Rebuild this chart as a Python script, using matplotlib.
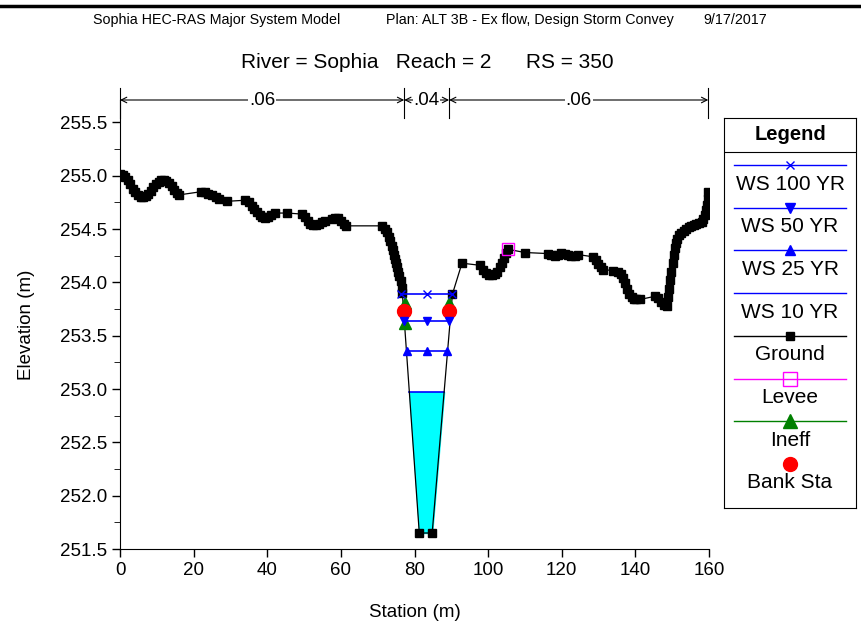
import matplotlib
matplotlib.use("Agg")
import matplotlib.pyplot as plt
from matplotlib.lines import Line2D
import numpy as np

plt.rcParams['font.family'] = ['Liberation Sans', 'DejaVu Sans']

# ground profile (station m, elevation m)
ground_pts = [
    (0.0, 255.02), (0.7, 255.01), (1.4, 254.99), (2.1, 254.96), (2.8, 254.92), (3.5, 254.88),
    (4.2, 254.85), (4.9, 254.82), (5.6, 254.80), (6.3, 254.80), (7.0, 254.81), (7.7, 254.83),
    (8.4, 254.86), (9.1, 254.89), (9.8, 254.92), (10.5, 254.94), (11.2, 254.96), (11.9, 254.96),
    (12.6, 254.95), (13.3, 254.93), (14.0, 254.90), (14.7, 254.87), (15.4, 254.84), (16.0, 254.82),
    (22.0, 254.85), (23.0, 254.85), (24.0, 254.83), (25.0, 254.82), (26.0, 254.80), (26.8, 254.78),
    (29.0, 254.76), (34.0, 254.77), (35.0, 254.75), (35.8, 254.72), (36.5, 254.69), (37.2, 254.66),
    (37.9, 254.63), (38.6, 254.61), (39.4, 254.60), (40.2, 254.61), (41.0, 254.63), (42.0, 254.65),
    (45.5, 254.65), (49.5, 254.64), (50.3, 254.61), (51.0, 254.58), (51.7, 254.55), (52.5, 254.54),
    (53.3, 254.54), (54.1, 254.55), (54.9, 254.57), (55.7, 254.58), (57.5, 254.59), (58.5, 254.60),
    (59.3, 254.60), (60.1, 254.58), (60.8, 254.55), (61.5, 254.53), (71.2, 254.53), (71.9, 254.50),
    (72.5, 254.47), (73.0, 254.43), (73.4, 254.39), (73.8, 254.34), (74.1, 254.30), (74.4, 254.26),
    (74.7, 254.22), (75.0, 254.18), (75.3, 254.14), (75.6, 254.10), (75.9, 254.06), (76.2, 254.01),
    (76.5, 253.95), (76.7, 253.90),
    (81.3, 251.65), (84.8, 251.65),
    (90.3, 253.89), (92.9, 254.18), (97.8, 254.16), (98.6, 254.12), (99.4, 254.09), (100.2, 254.07),
    (101.0, 254.07), (101.8, 254.08), (102.5, 254.10), (103.1, 254.14), (103.7, 254.18),
    (104.3, 254.23), (104.9, 254.28), (105.4, 254.31), (110.0, 254.28), (116.3, 254.27),
    (117.2, 254.26), (118.1, 254.25), (119.0, 254.26), (119.9, 254.28), (120.8, 254.27),
    (121.7, 254.26), (122.6, 254.25), (123.5, 254.25), (124.5, 254.26), (128.5, 254.24),
    (129.2, 254.21), (129.9, 254.17), (130.6, 254.14), (131.3, 254.12), (134.0, 254.11),
    (135.2, 254.10), (136.0, 254.08), (136.6, 254.04), (137.2, 253.99), (137.8, 253.94),
    (138.4, 253.89), (139.0, 253.86), (139.6, 253.84), (140.2, 253.84), (141.3, 253.84),
    (145.4, 253.87), (146.2, 253.85), (147.0, 253.82), (147.8, 253.79), (148.6, 253.78),
    (148.9, 253.86), (149.2, 253.94), (149.5, 254.02), (149.8, 254.10), (150.1, 254.18),
    (150.4, 254.26), (150.7, 254.32), (151.0, 254.37), (151.4, 254.41), (151.9, 254.44),
    (152.5, 254.46), (153.1, 254.48), (153.8, 254.50), (154.5, 254.52), (155.2, 254.53),
    (155.9, 254.54), (156.6, 254.55), (157.3, 254.56), (158.0, 254.57), (158.4, 254.59),
    (158.8, 254.63), (159.1, 254.68), (159.4, 254.73), (159.6, 254.78), (159.8, 254.85),
]
ground_sta = [p[0] for p in ground_pts]
ground_el = [p[1] for p in ground_pts]

# water surfaces (left edge, centre, right edge)
ws100_sta = [76.4, 83.4, 90.2]
ws100_el = 253.89
ws50_sta = [77.2, 83.4, 89.5]
ws50_el = 253.64
ws25_sta = [78.0, 83.4, 88.7]
ws25_el = 253.36
ws10_el = 252.97
channel_sta = [76.7, 81.3, 84.8, 90.3]
channel_el = [253.89, 251.65, 251.65, 253.89]

levee_sta = [105.4]
levee_el = [254.31]
ineff_sta = [77.3, 77.3, 89.5]
ineff_el = [253.81, 253.62, 253.81]
bank_sta = [77.2, 89.4]
bank_el = [253.73, 253.73]

n_bounds = [0.0, 77.2, 89.4, 159.8]
n_values = ['.06', '.04', '.06']

W, H = 861, 626
fig = plt.figure(figsize=(W / 100, H / 100), dpi=100)
ax = fig.add_axes([120 / W, (H - 549) / H, 589 / W, 449 / H])

ax.fill_between(channel_sta, channel_el, ws10_el, where=np.array(channel_el) < ws10_el,
                interpolate=True, color='#00FFFF', zorder=1)
# ws10 top edge
cx = np.array(channel_sta); ce = np.array(channel_el)
l10 = np.interp(ws10_el, ce[:2][::-1], cx[:2][::-1])
r10 = np.interp(ws10_el, ce[2:], cx[2:])
ax.plot([l10, r10], [ws10_el, ws10_el], color='blue', lw=1.2, zorder=2)

ax.plot(ground_sta, ground_el, color='black', lw=0.9, marker='s', ms=6.2, zorder=3)
ax.plot(ineff_sta, ineff_el, ls='none', marker='^', ms=9, color='#008000', zorder=4)
ax.plot(bank_sta, bank_el, ls='none', marker='o', ms=10, color='red', zorder=5)
ax.plot(levee_sta, levee_el, ls='none', marker='s', ms=9, mfc='none', mec='magenta', zorder=5)
ax.plot(ws100_sta, [ws100_el] * 3, color='blue', lw=1.2, marker='x', ms=6, zorder=6)
ax.plot(ws50_sta, [ws50_el] * 3, color='blue', lw=1.2, marker='v', ms=6, zorder=6)
ax.plot(ws25_sta, [ws25_el] * 3, color='blue', lw=1.2, marker='^', ms=6, zorder=6)

ax.set_xlim(0, 160)
ax.set_ylim(251.5, 255.71)
ax.set_xticks(np.arange(0, 161, 20))
ax.set_yticks(np.arange(251.5, 255.51, 0.5))
ax.set_yticks(np.arange(251.75, 255.6, 0.5), minor=True)
ax.yaxis.set_major_formatter(matplotlib.ticker.FormatStrFormatter('%.1f'))
ax.tick_params(labelsize=13.5, length=6, width=1)
ax.tick_params(which='minor', length=4)
for s in ['top', 'right']:
    ax.spines[s].set_visible(False)
ax.set_xlabel('Station (m)', fontsize=13.5, labelpad=18)
ax.set_ylabel('Elevation (m)', fontsize=13.5, labelpad=18)

# manning's n bar
ny = 255.71
for b in n_bounds:
    ax.plot([b, b], [255.54, 255.82], color='black', lw=0.8, clip_on=False)
for i, n in enumerate(n_values):
    a, b = n_bounds[i], n_bounds[i + 1]
    ax.annotate('', xy=(a, ny), xytext=(b, ny),
                arrowprops=dict(arrowstyle='<->', lw=0.8, color='black', shrinkA=0, shrinkB=0),
                annotation_clip=False)
    ax.text((a + b) / 2, ny, n, ha='center', va='center', fontsize=13.5,
            bbox=dict(fc='white', ec='none', pad=0.5), clip_on=False)

# header
fig.add_artist(Line2D([0, 1], [1 - 5.5 / H, 1 - 5.5 / H], lw=2.5, color='black'))
fig.text(217 / W, 1 - 20 / H, 'Sophia HEC-RAS Major System Model',
         ha='center', va='center', fontsize=10.3)
fig.text(530 / W, 1 - 20 / H, 'Plan: ALT 3B - Ex flow, Design Storm Convey',
         ha='center', va='center', fontsize=10.3)
fig.text(735 / W, 1 - 20 / H, '9/17/2017', ha='center', va='center', fontsize=10.3)
fig.text(427 / W, 1 - 62 / H, 'River = Sophia   Reach = 2      RS = 350',
         ha='center', va='center', fontsize=15)

# legend box
lg = fig.add_axes([724 / W, (H - 508) / H, 132 / W, 390 / H])
lg.set_xlim(0, 132)
lg.set_ylim(390, 0)
lg.set_xticks([]); lg.set_yticks([])
lg.text(66, 17, 'Legend', ha='center', va='center', fontsize=14.5, fontweight='bold')
lg.plot([0, 132], [34, 34], color='black', lw=0.8)
entries = [('WS 100 YR', 'blue', 'x', 'blue', 'blue'),
           ('WS 50 YR', 'blue', 'v', 'blue', 'blue'),
           ('WS 25 YR', 'blue', '^', 'blue', 'blue'),
           ('WS 10 YR', 'blue', None, 'blue', 'blue'),
           ('Ground', 'black', 's', 'black', 'black'),
           ('Levee', 'magenta', 's', 'none', 'magenta'),
           ('Ineff', '#008000', '^', '#008000', '#008000'),
           ('Bank Sta', None, 'o', 'red', 'red')]
msz = {'x': 6, 'v': 7, '^': 7, 's': 6, 'o': 10}
for i, (lab, lc, mk, fc, ec) in enumerate(entries):
    y = 47 + 42.7 * i
    if lc is not None:
        lg.plot([10, 122], [y, y], color=lc, lw=1)
    if mk is not None:
        s = msz[mk]
        if lab in ('Levee', 'Ineff'):
            s = 10
        lg.plot([66], [y], marker=mk, ms=s, mfc=fc, mec=ec, ls='none')
    lg.text(66, y + 19, lab, ha='center', va='center', fontsize=15)

fig.savefig('out.png', dpi=100)
